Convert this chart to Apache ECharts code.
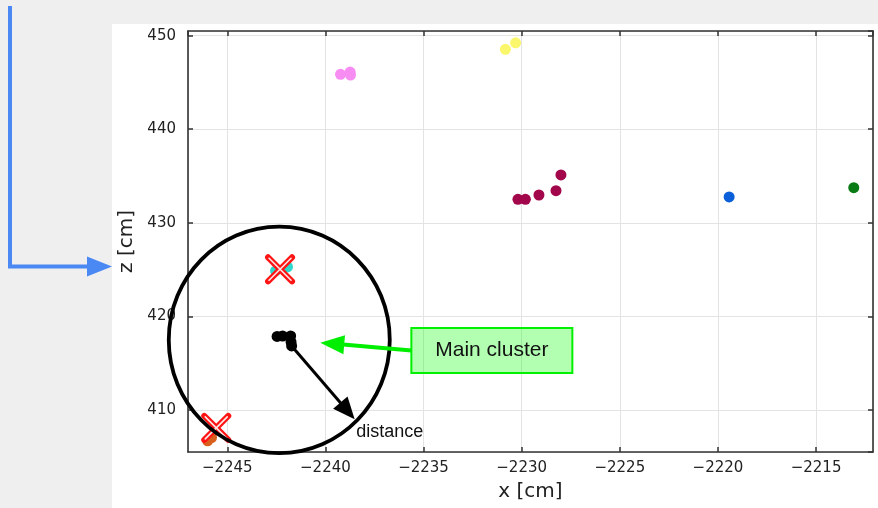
<!DOCTYPE html>
<html><head><meta charset="utf-8">
<script src="https://cdn.jsdelivr.net/npm/echarts@6/dist/echarts.min.js"></script>
<style>html,body{margin:0;padding:0;background:#efefef}#c{width:878px;height:508px}</style>
</head><body><div id="c"></div>
<script>
// ---- data (x [cm], z [cm]) ----
const pinkPts    = [[-2239.23, 445.87], [-2238.74, 446.11], [-2238.72, 445.79]];
const yellowPts  = [[-2230.83, 448.54], [-2230.31, 449.24]];
const crimsonPts = [[-2230.19, 432.51], [-2229.81, 432.51], [-2229.12, 432.97], [-2228.25, 433.43], [-2228.0, 435.11]];
const bluePts    = [[-2219.43, 432.76]];
const greenPts   = [[-2213.08, 433.75]];
const cyanPts    = [[-2242.54, 424.85], [-2241.93, 425.28]];
const orangePts  = [[-2246.0, 406.7], [-2245.8, 407.05]];
const mainPts    = [[-2242.46, 417.85], [-2242.18, 417.9], [-2241.77, 417.9], [-2241.75, 417.26], [-2241.72, 416.84]];
const rejectedPts = [[-2242.31, 425.03], [-2245.56, 408.08]];
// annotation anchors in data coordinates
const circleCenter = [-2242.35, 417.48];
const distanceFrom = [-2241.72, 416.84];
const distanceTo   = [-2238.51, 409.0];
const labelTip     = [-2240.26, 417.19];
const labelAnchor  = [-2235.62, 416.36];
const xRange = [-2247, -2212.1];
const zRange = [405.5, 450.5];
const xName = 'x [cm]', zName = 'z [cm]';
const labelText = 'Main cluster', distanceText = 'distance';

const chart = echarts.init(document.getElementById('c'));
const minus = v => String(v).replace('-', '\u2212');
const lineCol = '#333';
function axisBase(extra){
  return Object.assign({
    type:'value', scale:true,
    axisLine:{show:true, onZero:false, lineStyle:{color:lineCol, width:1.6}},
    axisTick:{show:true, inside:true, length:5, lineStyle:{color:lineCol, width:1.5}},
    splitLine:{show:false},
    axisLabel:{show:false}
  }, extra);
}
const tickFont = {fontFamily:'DejaVu Sans', fontSize:15, color:'#222'};
function scatter(data, color){
  return {type:'scatter', data, symbolSize:11, xAxisIndex:0, yAxisIndex:0,
    itemStyle:{color, opacity:1}, z:3};
}
chart.setOption({
  animation:false,
  backgroundColor:'#efefef',
  grid:{left:188, right:5, top:31, bottom:56, containLabel:false, outerBoundsMode:'none'},
  xAxis:[
    axisBase({position:'bottom', min:xRange[0], max:xRange[1], splitNumber:7,
      name:xName, nameLocation:'middle', nameGap:30,
      nameTextStyle:{fontFamily:'DejaVu Sans', fontSize:20, color:'#222'},
      splitLine:{show:true, lineStyle:{color:'#e3e3e3', width:1}},
      axisLabel:Object.assign({show:true, margin:9, showMinLabel:false, showMaxLabel:false, formatter:minus}, tickFont)}),
    axisBase({position:'top', min:xRange[0], max:xRange[1], splitNumber:7})
  ],
  yAxis:[
    axisBase({position:'left', min:zRange[0], max:zRange[1], splitNumber:5,
      name:zName, nameLocation:'middle', nameGap:51,
      nameTextStyle:{fontFamily:'DejaVu Sans', fontSize:20, color:'#222'},
      splitLine:{show:true, lineStyle:{color:'#e3e3e3', width:1}},
      axisLabel:Object.assign({show:true, margin:12, showMinLabel:false, showMaxLabel:false, formatter:minus}, tickFont)}),
    axisBase({position:'right', min:zRange[0], max:zRange[1], splitNumber:5})
  ],
  series:[
    scatter(pinkPts, '#f78cf2'),
    scatter(yellowPts, '#fbf76c'),
    scatter(crimsonPts, '#a2064b'),
    scatter(bluePts, '#0b5fd9'),
    scatter(greenPts, '#0a7a14'),
    scatter(cyanPts, '#2fd8cc'),
    scatter(orangePts, '#d9601c'),
    scatter(mainPts, '#000000'),
    {type:'custom', data:rejectedPts, xAxisIndex:0, yAxisIndex:0, z:6,
     renderItem(params, api){
       const p = api.coord([api.value(0), api.value(1)]);
       const s = 12, w = 11;
       const mk = (dx, dy, col, lw) => ({type:'line',
         shape:{x1:p[0]-dx, y1:p[1]-dy, x2:p[0]+dx, y2:p[1]+dy},
         style:{stroke:col, lineWidth:lw, lineCap:'round'}});
       return {type:'group', children:[
         mk(s, s, '#ff1414', 6, 1), mk(s, -s, '#ff1414', 6),
         mk(w, w, '#ffe8e8', 1.6), mk(w, -w, '#ffe8e8', 1.6)
       ]};
     }}
  ]
});

function px(p){ return chart.convertToPixel({seriesIndex:0}, p); }
function arrow(from, to, color, lw, headLen, headHalf){
  const dx = to[0]-from[0], dy = to[1]-from[1];
  const L = Math.hypot(dx, dy), ux = dx/L, uy = dy/L;
  const bx = to[0]-ux*headLen, by = to[1]-uy*headLen;
  return [
    {type:'line', z:100, shape:{x1:from[0], y1:from[1], x2:to[0]-ux*headLen*0.6, y2:to[1]-uy*headLen*0.6},
     style:{stroke:color, lineWidth:lw}},
    {type:'polygon', z:101, shape:{points:[[to[0],to[1]],[bx-uy*headHalf, by+ux*headHalf],[bx+uy*headHalf, by-ux*headHalf]]},
     style:{fill:color}}
  ];
}
const cc = px(circleCenter), dFrom = px(distanceFrom), dTo = px(distanceTo);
const lTip = px(labelTip), lA = px(labelAnchor);
const boxW = 161, boxH = 45;
const graphics = [
  {type:'rect', z:-10, shape:{x:112, y:24, width:766, height:484}, style:{fill:'#ffffff'}, silent:true},
  // blue pointer on the left
  {type:'polyline', z:100, shape:{points:[[10,6],[10,266.5],[90,266.5]]}, style:{stroke:'#4a88f4', lineWidth:4, fill:null}},
  {type:'polygon', z:100, shape:{points:[[112,266.5],[87,256.5],[87,276.5]]}, style:{fill:'#4a88f4'}},
  {type:'ellipse', z:100, shape:{cx:cc[0], cy:cc[1], rx:110.5, ry:113.3}, style:{stroke:'#000', lineWidth:3.8, fill:null}},
  ...arrow(dFrom, dTo, '#000', 3, 22, 9.5),
  {type:'text', z:100, x:dTo[0]+1.5, y:dTo[1]+12.5,
   style:{text:distanceText, font:'18px "Liberation Sans", Arial, sans-serif', fill:'#111', verticalAlign:'middle', align:'left'}},
  ...arrow(lA, lTip, '#00ee00', 4, 24, 9.5),
  {type:'rect', z:100, shape:{x:lA[0], y:lA[1]-boxH/2, width:boxW, height:boxH},
   style:{fill:'rgba(0,255,0,0.3)', stroke:'#00f000', lineWidth:2}},
  {type:'text', z:101, x:lA[0]+boxW/2, y:lA[1],
   style:{text:labelText, font:'21px "Liberation Sans", Arial, sans-serif', fill:'#111', align:'center', verticalAlign:'middle'}}
];
chart.setOption({graphic:{elements:graphics}});
</script></body></html>
